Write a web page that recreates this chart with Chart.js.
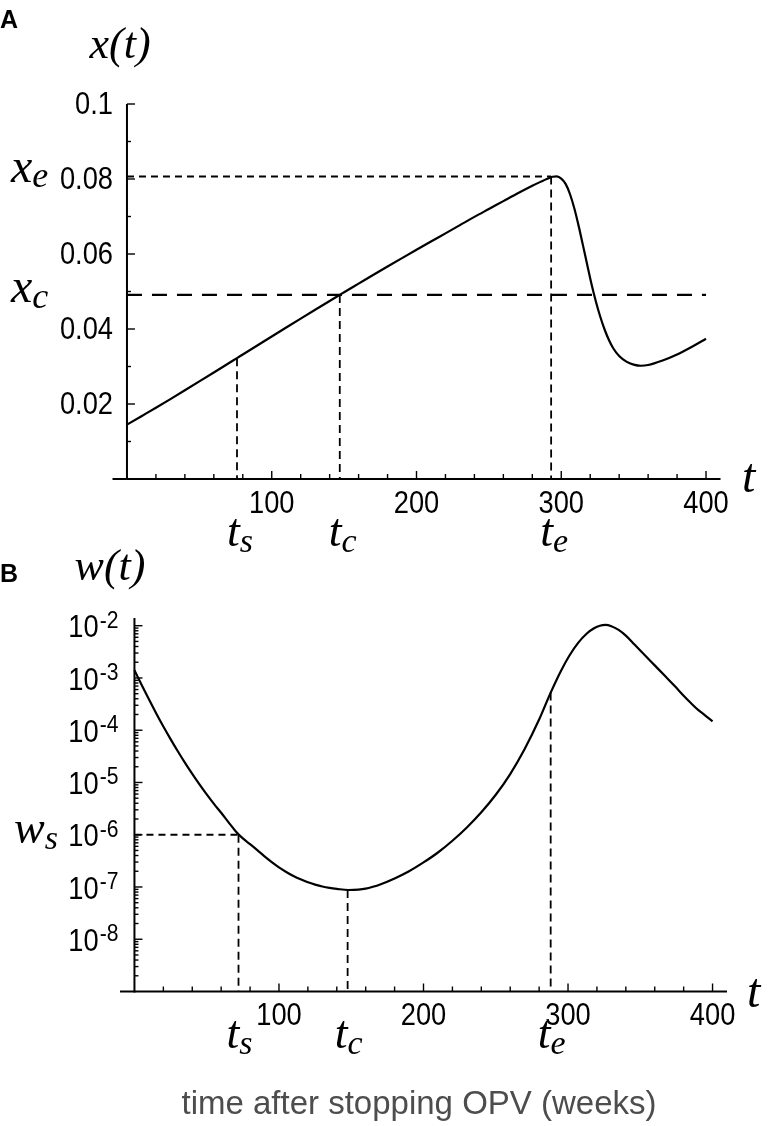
<!DOCTYPE html>
<html>
<head>
<meta charset="utf-8">
<script src="https://cdn.jsdelivr.net/npm/chart.js@4.4.1/dist/chart.umd.min.js"></script>
<style>
  html, body { margin: 0; padding: 0; background: #fff; }
  #wrap { position: relative; width: 784px; height: 1126px; }
  canvas { position: absolute; left: 0; }
  #chartA { top: 0; }
  #chartB { top: 520px; }
</style>
</head>
<body>
<div id="wrap">
  <canvas id="chartA" width="784" height="560"></canvas>
  <canvas id="chartB" width="784" height="606"></canvas>
</div>
<script>
(() => {
  "use strict";

  // panel A: x(t)
  const weeksA = [0, 10, 20, 30, 40, 50, 60, 70, 76, 80, 90, 100, 110, 120, 130, 140, 147, 150,
    160, 170, 180, 190, 200, 210, 220, 230, 240, 250, 260, 270, 280, 286, 290, 294, 297, 300,
    303, 306, 309, 312, 315, 318, 321, 324, 327, 330, 333, 336, 340, 345, 350, 355, 360, 370,
    380, 390, 400];
  const xValuesA = [0.0145, 0.01675, 0.0190, 0.02131, 0.02365, 0.02602, 0.02841, 0.03081,
    0.03225, 0.03321, 0.03561, 0.03801, 0.0404, 0.04278, 0.04514, 0.04748, 0.0491, 0.0498,
    0.0521, 0.0544, 0.05666, 0.0589, 0.06112, 0.06332, 0.0655, 0.0677, 0.0699, 0.0720,
    0.0741, 0.0762, 0.0782, 0.0793, 0.0800, 0.0806, 0.0807, 0.0801, 0.0787, 0.0760, 0.0722,
    0.0675, 0.0623, 0.0570, 0.0518, 0.0472, 0.0432, 0.0398, 0.0370, 0.0348, 0.0328, 0.0313,
    0.0305, 0.0302, 0.0304, 0.0316, 0.0332, 0.0352, 0.0374];

  // panel B: w(t)
  const weeksB = [0, 5, 10, 15, 20, 25, 30, 35, 40, 45, 50, 55, 60, 65, 70, 75, 80, 85, 90, 95,
    100, 105, 110, 115, 120, 125, 130, 135, 140, 148, 155, 160, 165, 170, 180, 190, 200, 210,
    220, 230, 240, 250, 260, 270, 280, 288, 295, 301, 307, 313, 318, 322, 326, 330, 335, 340,
    346, 353, 360, 367, 374, 380, 385, 390, 395, 400];
  const wValuesB = [1.41e-3, 7.33e-4, 3.90e-4, 2.12e-4, 1.18e-4, 6.76e-5, 3.95e-5, 2.37e-5,
    1.46e-5, 9.16e-6, 5.90e-6, 3.89e-6, 2.63e-6, 1.74e-6, 1.17e-6, 8.5e-7, 6.6e-7, 5.07e-7,
    3.85e-7, 2.99e-7, 2.37e-7, 1.94e-7, 1.62e-7, 1.40e-7, 1.23e-7, 1.11e-7, 1.02e-7, 9.6e-8,
    9.2e-8, 8.75e-8, 8.9e-8, 9.3e-8, 1.01e-7, 1.12e-7, 1.46e-7, 2.0e-7, 2.95e-7, 4.57e-7,
    7.67e-7, 1.38e-6, 2.69e-6, 5.82e-6, 1.45e-5, 4.37e-5, 1.60e-4, 5.25e-4, 1.35e-3, 2.69e-3,
    4.68e-3, 7.08e-3, 8.91e-3, 1.0e-2, 1.035e-2, 9.77e-3, 8.32e-3, 6.46e-3, 4.37e-3, 2.75e-3,
    1.74e-3, 1.10e-3, 6.92e-4, 4.57e-4, 3.31e-4, 2.45e-4, 1.91e-4, 1.48e-4];

  const weekTicks = [100, 200, 300, 400];
  const weekTickLabels = ["100", "200", "300", "400"];
  const xTicks = [0.02, 0.04, 0.06, 0.08, 0.1];
  const xTickLabels = ["0.02", "0.04", "0.06", "0.08", "0.1"];
  const wTicks = [1e-8, 1e-7, 1e-6, 1e-5, 1e-4, 1e-3, 1e-2];
  const wTickExponents = ["-8", "-7", "-6", "-5", "-4", "-3", "-2"];

  // marked times t_s, t_c, t_e
  const markLetters = ["s", "c", "e"];
  const markWeeksA = [76, 147, 293];
  const markWeeksB = [72, 147.5, 288];
  const xAtMarksA = [0.0322, 0.0491, 0.0807];   // x(t_s), x_c, x_e
  const wAtMarksB = [1e-6, 8.75e-8, 5.25e-4];   // w_s, w(t_c), w(t_e)

  const INK = "#000";
  const SANS = "'Liberation Sans', Arial, Helvetica, sans-serif";
  const SERIF = "'Liberation Serif', 'Times New Roman', serif";
  const NUM_SIZE = 31;
  const NARROW = 0.88;
  const B_OFFSET = 520;

  function seg(ctx, x1, y1, x2, y2) {
    ctx.beginPath();
    ctx.moveTo(x1, y1);
    ctx.lineTo(x2, y2);
    ctx.stroke();
  }

  // condensed Helvetica-like numerals
  function narrowText(ctx, text, x, y, size, align, baseline) {
    ctx.save();
    ctx.font = `${size}px ${SANS}`;
    ctx.textAlign = align;
    ctx.textBaseline = baseline;
    ctx.translate(x, y);
    ctx.scale(NARROW, 1);
    ctx.fillText(text, 0, 0);
    ctx.restore();
  }

  function narrowWidth(ctx, text, size) {
    ctx.save();
    ctx.font = `${size}px ${SANS}`;
    const w = ctx.measureText(text).width * NARROW;
    ctx.restore();
    return w;
  }

  function withSub(ctx, main, sub, x, y, opts) {
    const mainFont = `italic ${opts.size}px ${SERIF}`;
    const subFont = `italic ${opts.subSize}px ${SERIF}`;
    ctx.font = mainFont;
    const w1 = ctx.measureText(main).width;
    ctx.font = subFont;
    const w2 = ctx.measureText(sub).width;
    const left = opts.align === "center" ? x - (w1 + w2) / 2 : x;
    ctx.textAlign = "left";
    ctx.textBaseline = "alphabetic";
    ctx.fillStyle = INK;
    ctx.font = mainFont;
    ctx.fillText(main, left, y);
    ctx.font = subFont;
    ctx.fillText(sub, left + w1, y + opts.drop);
  }

  function pointsOf(xs, ys) {
    return xs.map((t, i) => ({ x: t, y: ys[i] }));
  }

  function dashed(points, dash, width) {
    return {
      data: points,
      borderColor: INK,
      borderWidth: width,
      borderDash: dash,
      pointRadius: 0,
      fill: false,
      clip: false
    };
  }

  function curve(points) {
    return {
      data: points,
      borderColor: INK,
      borderWidth: 2.2,
      pointRadius: 0,
      fill: false,
      clip: false,
      cubicInterpolationMode: "monotone"
    };
  }

  function drawWeekAxis(ctx, chart, y0) {
    const xs = chart.scales.x;
    ctx.lineWidth = 2;
    seg(ctx, chart.chartArea.left, y0, chart.chartArea.right, y0);
    ctx.lineWidth = 1.4;
    for (let t = 20; t <= 400; t += 20) {
      const px = xs.getPixelForValue(t);
      seg(ctx, px, y0, px, y0 - (t % 100 === 0 ? 8 : 5));
    }
    weekTicks.forEach((v, i) => {
      narrowText(ctx, weekTickLabels[i], xs.getPixelForValue(v), y0 + 25, NUM_SIZE, "center", "middle");
    });
  }

  const panelAPlugin = {
    id: "panelA",
    afterDraw(chart) {
      const { ctx } = chart;
      const xs = chart.scales.x;
      const ys = chart.scales.y;
      const x0 = xs.getPixelForValue(0);
      const y0 = ys.getPixelForValue(0);
      ctx.save();
      ctx.strokeStyle = INK;
      ctx.fillStyle = INK;
      drawWeekAxis(ctx, chart, y0);
      ctx.lineWidth = 2;
      seg(ctx, x0, y0 + 1, x0, ys.getPixelForValue(0.1));
      ctx.lineWidth = 1.4;
      for (let i = 1; i <= 10; i += 1) {
        const py = ys.getPixelForValue(i / 100);
        seg(ctx, x0, py, x0 + (i % 2 === 0 ? 8 : 4), py);
      }
      xTicks.forEach((v, i) => {
        narrowText(ctx, xTickLabels[i], x0 - 14, ys.getPixelForValue(v) + 1, NUM_SIZE, "right", "middle");
      });

      markWeeksA.forEach((t, i) => {
        withSub(ctx, "t", markLetters[i], xs.getPixelForValue(t) + 3, 546,
          { size: 46, subSize: 34, drop: 6, align: "center" });
      });
      withSub(ctx, "x", "e", 11, ys.getPixelForValue(xAtMarksA[2]) + 6, { size: 48, subSize: 36, drop: 5 });
      withSub(ctx, "x", "c", 11, ys.getPixelForValue(xAtMarksA[1]) + 7, { size: 48, subSize: 36, drop: 6 });

      ctx.font = `italic 48px ${SERIF}`;
      ctx.textAlign = "left";
      ctx.textBaseline = "alphabetic";
      ctx.fillText("t", 742, 492);
      ctx.font = `italic 44px ${SERIF}`;
      ctx.textAlign = "center";
      ctx.fillText("x(t)", 120, 58);

      ctx.font = `bold 25px ${SANS}`;
      ctx.textAlign = "left";
      ctx.fillText("A", 0, 28);
      ctx.restore();
    }
  };

  const panelBPlugin = {
    id: "panelB",
    afterDraw(chart) {
      const { ctx } = chart;
      const xs = chart.scales.x;
      const ys = chart.scales.y;
      const x0 = xs.getPixelForValue(0);
      const y0 = ys.getPixelForValue(1e-9);
      ctx.save();
      ctx.strokeStyle = INK;
      ctx.fillStyle = INK;
      drawWeekAxis(ctx, chart, y0);
      ctx.lineWidth = 2;
      seg(ctx, x0, y0 + 1, x0, ys.getPixelForValue(1.4e-2));
      ctx.lineWidth = 1.4;
      for (let d = -9; d <= -2; d += 1) {
        const base = Math.pow(10, d);
        for (let k = 1; k <= 9; k += 1) {
          if (d === -2 && k > 1) break;
          if (d === -9 && k === 1) continue;
          const py = ys.getPixelForValue(base * k);
          seg(ctx, x0, py, x0 + (k === 1 ? 8 : 4), py);
        }
      }

      wTicks.forEach((v, i) => {
        const py = ys.getPixelForValue(v);
        const supW = narrowWidth(ctx, wTickExponents[i], 24);
        narrowText(ctx, wTickExponents[i], x0 - 16, py + 2, 24, "right", "alphabetic");
        narrowText(ctx, "10", x0 - 17 - supW, py + 3, NUM_SIZE, "right", "middle");
      });

      markWeeksB.forEach((t, i) => {
        withSub(ctx, "t", markLetters[i], xs.getPixelForValue(t) + 1, 1048 - B_OFFSET,
          { size: 46, subSize: 34, drop: 6, align: "center" });
      });
      withSub(ctx, "w", "s", 14, ys.getPixelForValue(wAtMarksB[0]) + 8, { size: 46, subSize: 34, drop: 6 });

      ctx.font = `italic 48px ${SERIF}`;
      ctx.textAlign = "left";
      ctx.textBaseline = "alphabetic";
      ctx.fillText("t", 747, 1007 - B_OFFSET);
      ctx.font = `italic 44px ${SERIF}`;
      ctx.textAlign = "center";
      ctx.fillText("w(t)", 110, 580 - B_OFFSET);

      ctx.font = `bold 25px ${SANS}`;
      ctx.textAlign = "left";
      ctx.fillText("B", 0, 582 - B_OFFSET);

      ctx.fillStyle = "#4d4d4d";
      ctx.font = `33px ${SANS}`;
      ctx.textAlign = "center";
      ctx.fillText("time after stopping OPV (weeks)", 419, 1114 - B_OFFSET);
      ctx.restore();
    }
  };

  const baseOptions = (padding, yScale) => ({
    responsive: false,
    animation: false,
    events: [],
    layout: { padding },
    plugins: { legend: { display: false }, tooltip: { enabled: false } },
    scales: {
      x: { type: "linear", min: -10, max: 410, display: false },
      y: yScale
    }
  });

  const tsA = markWeeksA[0], tcA = markWeeksA[1], teA = markWeeksA[2];
  new Chart(document.getElementById("chartA"), {
    type: "line",
    data: {
      datasets: [
        curve(pointsOf(weeksA, xValuesA)),
        dashed([{ x: 0, y: xAtMarksA[2] }, { x: teA, y: xAtMarksA[2] }], [7, 5], 2),
        dashed([{ x: teA, y: xAtMarksA[2] }, { x: teA, y: 0 }], [8, 5], 1.8),
        dashed([{ x: 0, y: xAtMarksA[1] }, { x: 400, y: xAtMarksA[1] }], [15, 10], 2.4),
        dashed([{ x: tcA, y: xAtMarksA[1] }, { x: tcA, y: 0 }], [8, 5], 1.8),
        dashed([{ x: tsA, y: xAtMarksA[0] }, { x: tsA, y: 0 }], [8, 5], 1.8)
      ]
    },
    options: baseOptions({ left: 112.5, right: 63.5, top: 104, bottom: 81 },
      { type: "linear", min: 0, max: 0.1, display: false }),
    plugins: [panelAPlugin]
  });

  const tsB = markWeeksB[0], tcB = markWeeksB[1], teB = markWeeksB[2];
  new Chart(document.getElementById("chartB"), {
    type: "line",
    data: {
      datasets: [
        curve(pointsOf(weeksB, wValuesB)),
        dashed([{ x: 0, y: wAtMarksB[0] }, { x: tsB, y: wAtMarksB[0] }], [7, 5], 2),
        dashed([{ x: tsB, y: wAtMarksB[0] }, { x: tsB, y: 1e-9 }], [8, 5], 1.8),
        dashed([{ x: tcB, y: wAtMarksB[1] }, { x: tcB, y: 1e-9 }], [8, 5], 1.8),
        dashed([{ x: teB, y: wAtMarksB[2] }, { x: teB, y: 1e-9 }], [8, 5], 1.8)
      ]
    },
    options: baseOptions({ left: 120, right: 57, top: 105.7, bottom: 134.5 },
      { type: "logarithmic", min: 1e-9, max: 1e-2, display: false }),
    plugins: [panelBPlugin]
  });
})();
</script>
</body>
</html>
